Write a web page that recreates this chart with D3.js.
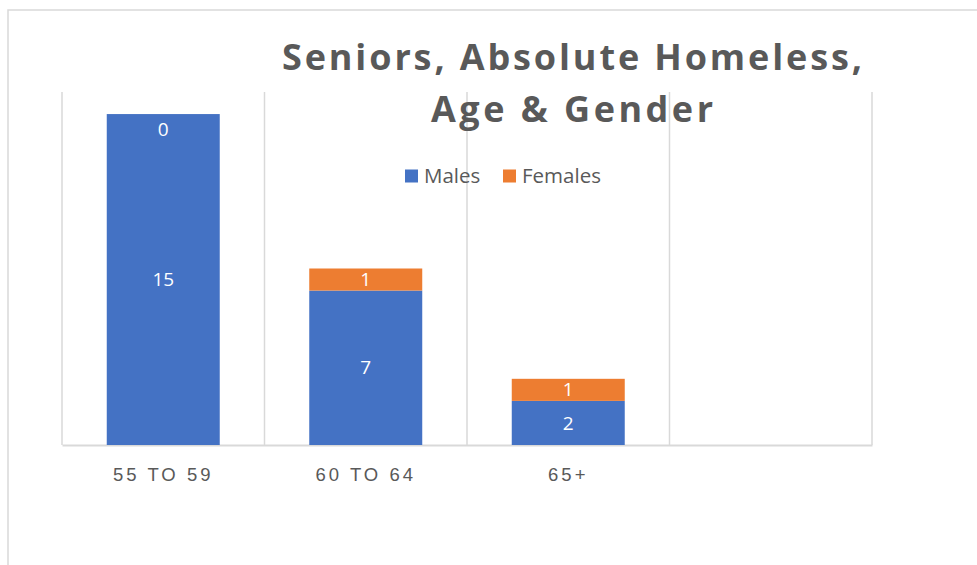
<!DOCTYPE html>
<html>
<head>
<meta charset="utf-8">
<script src="https://cdn.jsdelivr.net/npm/d3@7"></script>
<style>
  body { margin: 0; background: #fff; }
  svg { display: block; font-family: "Open Sans", "Noto Sans", sans-serif; }
</style>
</head>
<body>
<svg id="chart" viewBox="0 0 977 565" width="977" height="565"></svg>
<script>
const categories = ["55 TO 59", "60 TO 64", "65+", ""];
const males = [15, 7, 2];
const females = [0, 1, 1];
const seriesNames = ["Males", "Females"];
const titleLines = ["Seniors, Absolute Homeless,", "Age & Gender"];

const svg = d3.select("#chart");
const colors = { Males: "#4472C4", Females: "#ED7D31" };
const grid = "#d9d9d9";

// chart frame (only left and top edges are visible in the crop)
svg.append("path")
    .attr("d", "M8,565 L8,10 L977,10")
    .attr("fill", "none")
    .attr("stroke", grid)
    .attr("stroke-width", 1.5);

const x = d3.scaleBand()
    .domain(categories)
    .range([62, 872])
    .paddingInner(0.442)
    .paddingOuter(0.221);

const y = d3.scaleLinear()
    .domain([0, 16])
    .range([445, 92]);

// vertical gridlines at category boundaries
const step = x.step();
const bounds = d3.range(categories.length + 1).map(i => x.range()[0] + i * step);
svg.append("g")
    .selectAll("line")
    .data(bounds)
    .enter()
    .append("line")
    .attr("x1", d => d).attr("x2", d => d)
    .attr("y1", y(16)).attr("y2", y(0))
    .attr("stroke", grid)
    .attr("stroke-width", 1.5);

// category axis
const xAxis = svg.append("g")
    .attr("transform", `translate(0,${y(0)})`)
    .call(d3.axisBottom(x).tickSize(0).tickPadding(0));
xAxis.select(".domain")
    .attr("stroke", grid)
    .attr("stroke-width", 2);
xAxis.selectAll("text")
    .attr("y", 36)
    .attr("dy", 0)
    .style("font-size", "18.5px")
    .style("letter-spacing", "3px")
    .attr("fill", "#595959");

// stacked bars
const rows = males.map((m, i) => ({ cat: categories[i], Males: m, Females: females[i] }));
const stacked = d3.stack().keys(seriesNames)(rows);

const layers = svg.append("g")
    .selectAll("g")
    .data(stacked)
    .enter()
    .append("g")
    .attr("fill", d => colors[d.key]);

layers.selectAll("rect")
    .data(d => d)
    .enter()
    .append("rect")
    .attr("x", d => x(d.data.cat))
    .attr("width", x.bandwidth())
    .attr("y", d => y(d[1]))
    .attr("height", d => y(d[0]) - y(d[1]));

// data labels
layers.selectAll("text")
    .data(d => d.map(v => ({ v, key: d.key })))
    .enter()
    .append("text")
    .attr("x", d => x(d.v.data.cat) + x.bandwidth() / 2)
    .attr("y", d => {
        const h = y(d.v[0]) - y(d.v[1]);
        return h > 0 ? (y(d.v[0]) + y(d.v[1])) / 2 : y(d.v[1]) + 15;
    })
    .attr("dy", "0.35em")
    .attr("text-anchor", "middle")
    .attr("fill", "#fff")
    .style("font-size", "19px")
    .text(d => d.v.data[d.key]);

// title
const titleWidths = [580, 282];
svg.append("g")
    .selectAll("text")
    .data(titleLines)
    .enter()
    .append("text")
    .attr("x", 572)
    .attr("y", (d, i) => 70 + i * 52)
    .attr("text-anchor", "middle")
    .attr("textLength", (d, i) => titleWidths[i])
    .attr("lengthAdjust", "spacing")
    .attr("fill", "#595959")
    .style("font-size", "36px")
    .style("font-weight", "bold")
    .text(d => d);

// legend
const legend = svg.append("g");
const legendX = [405, 503];
seriesNames.forEach((name, i) => {
    const item = legend.append("g")
        .attr("transform", `translate(${legendX[i]},176)`);
    item.append("rect")
        .attr("x", 0).attr("y", -6.5)
        .attr("width", 13).attr("height", 13)
        .attr("fill", colors[name]);
    item.append("text")
        .attr("x", 19)
        .attr("dy", "0.35em")
        .attr("fill", "#595959")
        .style("font-size", "20.5px")
        .text(name);
});
</script>
</body>
</html>
